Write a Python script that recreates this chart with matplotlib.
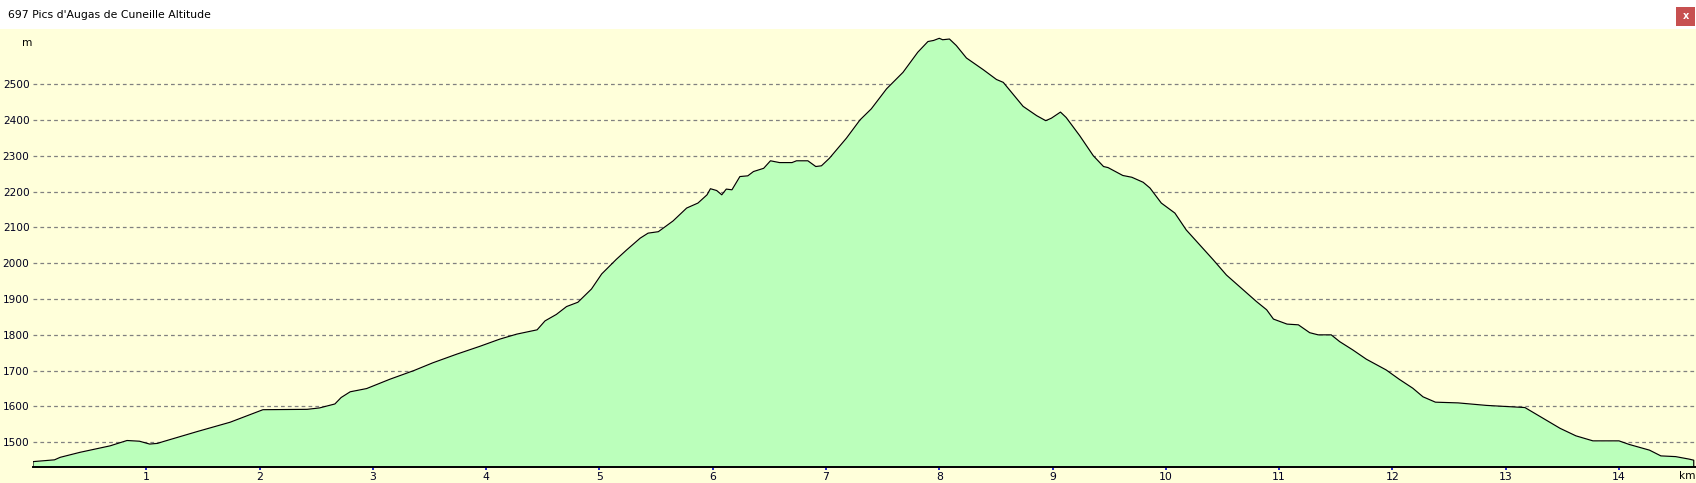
import matplotlib
matplotlib.use("Agg")
import matplotlib.pyplot as plt
from matplotlib.patches import Rectangle

# ---- data ----
distance_km = [0.0, 0.19, 0.24, 0.415, 0.68, 0.83, 0.94, 1.03, 1.10, 1.15, 1.45, 1.74, 2.03,
               2.42, 2.53, 2.665, 2.72, 2.80, 2.945, 3.15, 3.36, 3.53, 3.74, 3.945, 4.12,
               4.27, 4.45, 4.52, 4.62, 4.71, 4.81, 4.93, 5.02, 5.15, 5.24, 5.36, 5.43,
               5.52, 5.65, 5.77, 5.87, 5.95, 5.98, 6.035, 6.08, 6.12, 6.17, 6.24, 6.31,
               6.36, 6.45, 6.51, 6.59, 6.70, 6.74, 6.84, 6.91, 6.96, 7.03, 7.18, 7.30,
               7.40, 7.535, 7.68, 7.81, 7.90, 7.95, 8.00, 8.03, 8.09, 8.15, 8.24, 8.39,
               8.505, 8.565, 8.74, 8.86, 8.94, 8.99, 9.07, 9.12, 9.24, 9.36, 9.45, 9.49,
               9.62, 9.70, 9.80, 9.86, 9.96, 10.08, 10.18, 10.30, 10.42, 10.535, 10.65,
               10.80, 10.89, 10.95, 11.07, 11.17, 11.27, 11.345, 11.46, 11.535, 11.65,
               11.77, 11.945, 12.06, 12.18, 12.27, 12.38, 12.58, 12.83, 13.17, 13.33,
               13.48, 13.62, 13.77, 14.00, 14.09, 14.27, 14.37, 14.50, 14.62, 14.66]
altitude_m = [1446, 1451, 1458, 1472, 1490, 1505, 1503, 1495, 1497, 1502, 1530, 1556, 1591,
              1592, 1596, 1607, 1625, 1641, 1650, 1676, 1700, 1722, 1746, 1768, 1788,
              1802, 1814, 1839, 1857, 1879, 1891, 1928, 1970, 2011, 2037, 2070, 2084,
              2088, 2118, 2154, 2168, 2191, 2208, 2203, 2191, 2207, 2205, 2242, 2244,
              2256, 2265, 2286, 2281, 2281, 2286, 2286, 2270, 2272, 2293, 2349, 2400,
              2431, 2487, 2533, 2589, 2619, 2622, 2628, 2624, 2626, 2608, 2573, 2540,
              2513, 2505, 2438, 2412, 2398, 2405, 2422, 2407, 2356, 2300, 2270, 2267,
              2245, 2240, 2226, 2210, 2168, 2140, 2093, 2051, 2009, 1967, 1935,
              1893, 1870, 1844, 1830, 1828, 1806, 1800, 1800, 1781, 1758,
              1732, 1702, 1676, 1651, 1627, 1612, 1610, 1603, 1597, 1567,
              1539, 1518, 1504, 1504, 1494, 1478, 1462, 1460, 1453, 1450]
y_ticks = [1500, 1600, 1700, 1800, 1900, 2000, 2100, 2200, 2300, 2400, 2500]
x_ticks = list(range(1, 15))
title = "697 Pics d'Augas de Cuneille Altitude"

# ---- layout ----
W, H = 1696, 483
BG = "#FFFFDA"
FILL = "#BBFFBB"
plt.rcParams['font.family'] = ['DejaVu Sans']

fig = plt.figure(figsize=(W / 100, H / 100), dpi=100, facecolor=BG)

def fx(px):
    return px / W

def fy(py):
    return 1 - py / H

# title bar
fig.patches.append(Rectangle((0, fy(29)), 1, 29 / H, transform=fig.transFigure,
                             facecolor="white", edgecolor="none", zorder=0))
fig.patches.append(Rectangle((fx(1676), fy(25.5)), 19 / W, 18.5 / H, transform=fig.transFigure,
                             facecolor="#C75050", edgecolor="none", zorder=1))
fig.text(fx(1685.5), fy(16), "x", color="white", fontsize=7, fontweight="bold",
         ha="center", va="center")
fig.text(fx(8), fy(15), title, fontsize=7.8, ha="left", va="center", color="#000000")

left, right, top, bottom = 33, 1696, 29, 467
ax = fig.add_axes([fx(left), fy(bottom), (right - left) / W, (bottom - top) / H])
ax.set_facecolor(BG)

ymin, ymax = 1431, 2654
xmax = 14.68
ax.set_xlim(0, xmax)
ax.set_ylim(ymin, ymax)

xs = [distance_km[0]] + distance_km + [distance_km[-1]]
ys = [ymin] + altitude_m + [ymin]
ax.fill_between(distance_km, altitude_m, ymin, color=FILL, linewidth=0, zorder=2)
ax.plot(xs, ys, color="black", linewidth=0.85, zorder=3)

ax.set_yticks(y_ticks)
ax.set_yticklabels([str(v) for v in y_ticks])
ax.set_xticks(x_ticks)
ax.set_xticklabels([str(v) for v in x_ticks])
ax.grid(axis="y", color="#808080", linestyle=(0, (3, 2.5)), linewidth=0.9, zorder=1)
ax.set_axisbelow(True)

for s in ["left", "right", "top"]:
    ax.spines[s].set_visible(False)
ax.spines["bottom"].set_color("black")
ax.spines["bottom"].set_linewidth(1.4)
ax.spines["bottom"].set_zorder(4)

ax.tick_params(axis="y", length=0, pad=2.5, labelsize=7.6, labelcolor="#000020")
ax.tick_params(axis="x", direction="inout", length=4, width=1.2, color="#0000CC",
               pad=1.5, labelsize=7.8, labelcolor="#000020")

fig.text(fx(27.5), fy(43.5), "m", fontsize=7.6, ha="center", va="center")
fig.text(fx(1695), fy(476), "km", fontsize=7.6, ha="right", va="center")

fig.savefig("out.png", dpi=100, facecolor=BG)
